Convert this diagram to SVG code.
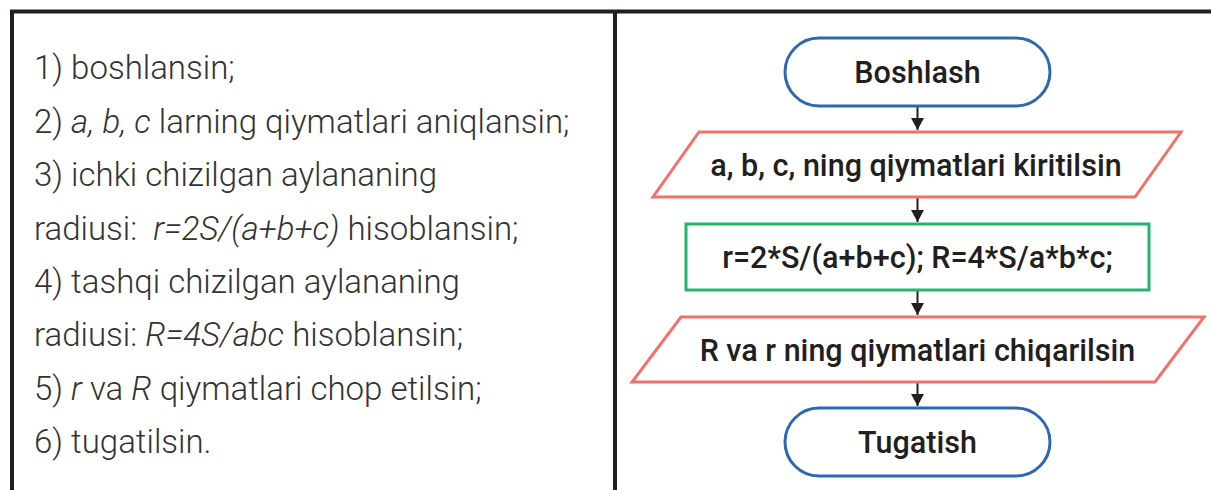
<svg xmlns="http://www.w3.org/2000/svg" width="1211" height="490" viewBox="0 0 1211 490">
<defs>
<marker id="ah" viewBox="0 0 12 13" refX="12" refY="6.5" markerWidth="12" markerHeight="13" markerUnits="userSpaceOnUse" orient="auto">
<path d="M0,0 L12,6.5 L0,13 Z" fill="#231f20"/>
</marker>
<style>
.frame{stroke:#231f20;stroke-width:4;fill:none}
.step{font-family:Roboto,"Liberation Sans",sans-serif;font-weight:300;font-size:33px;fill:#333333}
.it{font-style:italic}
.lbl{font-family:"Roboto Medium",Roboto,"Liberation Sans",sans-serif;font-weight:500;font-size:30.5px;fill:#231f20;text-anchor:middle}
.term{fill:#ffffff;stroke:#2f68b2;stroke-width:3}
.io{fill:#ffffff;stroke:#f0726c;stroke-width:3}
.proc{fill:#ffffff;stroke:#27b36f;stroke-width:3}
.conn{stroke:#231f20;stroke-width:2;fill:none;marker-end:url(#ah)}
</style>
</defs>
<rect width="1211" height="490" fill="#ffffff"/>
<g id="frame">
<line class="frame" x1="10" y1="11.5" x2="1211" y2="11.5"/>
<line class="frame" x1="12" y1="10" x2="12" y2="490"/>
<line class="frame" x1="615" y1="10" x2="615" y2="490"/>
</g>
<g id="steps">
<text class="step" x="34" y="79">1) boshlansin;</text>
<text class="step" x="34" y="132.5">2) <tspan class="it">a, b, c</tspan> larning qiymatlari aniqlansin;</text>
<text class="step" x="34" y="186">3) ichki chizilgan aylananing</text>
<text class="step" x="34" y="239.5" xml:space="preserve">radiusi:  <tspan class="it">r=2S/(a+b+c)</tspan> hisoblansin;</text>
<text class="step" x="34" y="292.5">4) tashqi chizilgan aylananing</text>
<text class="step" x="34" y="346">radiusi: <tspan class="it">R=4S/abc</tspan> hisoblansin;</text>
<text class="step" x="34" y="399.5">5) <tspan class="it">r</tspan> va <tspan class="it">R</tspan> qiymatlari chop etilsin;</text>
<text class="step" x="34" y="453">6) tugatilsin.</text>
</g>
<g id="connectors">
<line class="conn" x1="917.5" y1="106" x2="917.5" y2="130"/>
<line class="conn" x1="917.5" y1="197" x2="917.5" y2="222"/>
<line class="conn" x1="917.5" y1="290" x2="917.5" y2="315"/>
<line class="conn" x1="917.5" y1="382" x2="917.5" y2="406"/>
</g>
<g id="start">
<rect class="term" x="785" y="38" width="265" height="68" rx="34" ry="34"/>
<text class="lbl" x="917.5" y="83">Boshlash</text>
</g>
<g id="input">
<polygon class="io" points="699,132 1181,132 1135,197 653,197"/>
<text class="lbl" x="916" y="176">a, b, c, ning qiymatlari kiritilsin</text>
</g>
<g id="process">
<rect class="proc" x="686" y="224" width="463" height="66"/>
<text class="lbl" x="917.5" y="268">r=2*S/(a+b+c); R=4*S/a*b*c;</text>
</g>
<g id="output">
<polygon class="io" points="681,317 1204,317 1155,382 632,382"/>
<text class="lbl" x="917.5" y="361">R va r ning qiymatlari chiqarilsin</text>
</g>
<g id="end">
<rect class="term" x="785" y="408" width="265" height="68" rx="34" ry="34"/>
<text class="lbl" x="917.5" y="453">Tugatish</text>
</g>
</svg>
